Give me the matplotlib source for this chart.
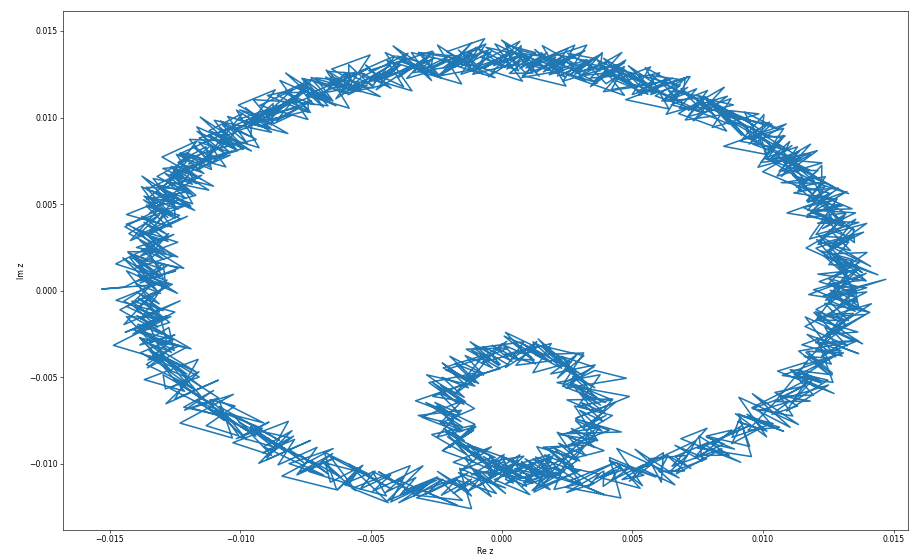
import numpy as np
import matplotlib
matplotlib.use("Agg")
import matplotlib.pyplot as plt

# Values in units of 1e-5
UNIT = 1e-5

# first pass round the inner loop
re_inner_1 = [25, 160, 85, 185, 70, 205, 130,
              290, 170, 269, 179, 358, 248, 357,
              242, 412, 283, 458, 249, 399, 315,
              435, 285, 489, 289, 398, 233, 357,
              477, 247, 358, 188, 289, 214, 315,
              150, 235, 140, 230, 55, 135, 40,
              125, 10, 120, -75, 20, -90, 25,
              -135, -5, -139, -69, -223, -113, -227,
              -102, -287, -138, -263, -134, -329, -170,
              -290, -150, -319, -154, -248, -98, -222,
              -107, -227, -108, -183, -24, -129, -35,
              -115, 10, -55, 65, -50, 70, 15]
im_inner_1 = [-980, -1068, -1107, -945, -998, -1071, -960,
              -1043, -905, -1041, -913, -865, -947, -803,
              -905, -805, -740, -815, -825, -720, -790,
              -645, -735, -610, -555, -645, -550, -460,
              -505, -562, -428, -480, -367, -504, -375,
              -317, -435, -278, -397, -430, -293, -392,
              -400, -262, -333, -415, -292, -403, -330,
              -337, -450, -504, -372, -445, -538, -417,
              -550, -485, -640, -610, -535, -635, -725,
              -645, -785, -720, -690, -845, -785, -920,
              -805, -923, -987, -865, -963, -886, -1035,
              -1063, -945, -1096, -983, -1065, -947, -1088]

# first pass round the outer loop
re_outer_1 = [45, -11, 148, 77, 186, 84, 208, 302, 201,
              240, 352, 249, 391, 389, 491, 378,
              530, 442, 544, 461, 619, 611, 563,
              710, 639, 784, 663, 767, 756, 871,
              765, 881, 783, 949, 911, 882, 1039,
              930, 1064, 943, 1056, 960, 1114, 1063, 1181,
              1050, 1186, 1113, 1249, 1116, 1197, 1104,
              1265, 1164, 1248, 1137, 1306, 1224, 1363, 1202, 1311,
              1210, 1363, 1251, 1409, 1237, 1320, 1203, 1361, 1289, 1397,
              1230, 1470, 1270, 1360, 1210, 1395, 1285,
              1380, 1246, 1327, 1203, 1349, 1260, 1385, 1211, 1317, 1228, 1354,
              1190, 1305, 1216, 1341, 1172, 1237, 1118, 1268, 1169, 1239, 1070,
              1240, 1103, 1166, 1039, 1167, 1075, 1183, 1016, 1079, 1012,
              990, 1092, 914, 1025, 947, 1034, 866, 938, 854, 971, 788,
              900, 781, 887, 712, 788, 649, 775, 686, 761, 612, 678, 549, 655,
              525, 605, 465, 590, 485, 580, 420, 470, 355, 475, 355, 450, 290,
              385, 241, 322, 227, 343, 214, 280, 111, 216, 127, 213, 59, 120,
              30, 130, 15, 65, -80, 15, -100, 35, -110, -50, -195, -115, -205,
              -115, -243, -140, -318, -250, -388, -265, -363, -285, -438, -375, -508, -390, -488, -405, -583,
              -585, -489, -662, -561, -634, -538, -711, -645, -764, -657, -756, -664, -818, -741,
              -740, -896, -802, -903, -775, -906, -827, -1008, -884, -980, -897, -1048, -974,
              -1075, -939, -1078, -998, -1157, -1056, -1165, -1009, -1154, -1078, -1237, -1131,
              -1110, -1244, -1167, -1296, -1170, -1243, -1147, -1306, -1235, -1358, -1207, -1316, -1189, -1368, -1277,
              -1370, -1229, -1348, -1272, -1435, -1308, -1406, -1239, -1382, -1274, -1361, -1428, -1305, -1406, -1237, -1383, -1279, -1445,
              -1530, -1270, -1390, -1295, -1435, -1320, -1415, -1250, -1375, -1280, -1440, -1305,
              -1280, -1399, -1233, -1353, -1257, -1381, -1265, -1344, -1204, -1293, -1157, -1286,
              -1295, -1149, -1219, -1083, -1213, -1102, -1216, -1046, -1115,
              -1020, -1130, -1005, -1070, -915, -1015, -890, -1000,
              -875, -963, -806, -904, -796, -914, -792,
              -855, -706, -783, -639, -770, -646, -738, -584,
              -535, -628, -531, -599, -441, -494, -362,
              -470, -329, -393, -262, -376,
              -245, -335, -150, -250, -130, -245, -115, -170,
              -20, -105, 15, -80]
im_outer_1 = [-1110, -1013, -1077, -985, -1148, -1077, -1015, -1113, -1147,
              -1010, -1112, -1164, -1041, -1129, -1021, -1078,
              -1140, -995, -1065, -1090, -935, -1105, -970,
              -950, -1051, -971, -892, -983, -839, -949,
              -950, -804, -839, -898, -737, -846, -766,
              -725, -788, -805, -627, -680, -723, -605, -637,
              -640, -519, -642, -516, -469, -553, -456,
              -485, -354, -479, -348, -303, -377, -287, -301, -171,
              -170, -238, -251, -124, -72, -200, -108, 19, -89, -7,
              -30, 66, -27, 119, 96, 57, 204,
              105, 235, 116, 246, 322, 237, 338, 268, 444, 359, 450,
              465, 386, 552, 473, 464, 600, 565, 531, 517, 658, 624,
              620, 749, 623, 742, 791, 695, 789, 758, 897, 776,
              910, 816, 863, 974, 846, 962, 1003, 880, 1021, 973, 1084,
              985, 1107, 1073, 1005, 1156, 1073, 1029, 1166, 1092, 1204, 1090, 1182, 1228,
              1130, 1258, 1212, 1145, 1299, 1202, 1161, 1294, 1213, 1331, 1205, 1303, 1267,
              1370, 1253, 1211, 1359, 1322, 1240, 1418, 1302, 1260, 1393, 1291, 1369, 1257,
              1255, 1375, 1420, 1270, 1350, 1290, 1405, 1305, 1250, 1390, 1310, 1430, 1275,
              1370, 1244, 1333, 1376, 1250, 1324, 1383, 1226, 1260, 1329, 1178, 1271, 1325, 1204, 1278, 1161,
              1305, 1171, 1196, 1262, 1108, 1204, 1229, 1095, 1186, 1106, 1222, 1068, 1094, 1174,
              1030, 1127, 1159, 1016, 1058, 955, 1082, 988, 940, 1057, 939, 1006, 853,
              980, 874, 823, 948, 882, 791, 920, 809, 748, 828, 742, 831,
              700, 787, 619, 706, 723, 580, 667, 589, 676, 528, 570, 612, 489, 546, 423,
              525, 415, 340, 465, 385, 285, 360, 280, 200, 330, 180, 220, 85, 205, 130, 45, 145, 20,
              10, 42, -95, 12, -90, -173, -60, -123, -220, -143, -240, -153,
              -305, -233, -317, -400, -278, -357, -460, -378, -481, -380, -498, -566,
              -485, -611, -487, -618, -689, -576, -672, -728, -629,
              -665, -779, -838, -701, -795, -854, -758, -846,
              -900, -797, -849, -961, -839, -936, -858,
              -1005, -904, -1063, -966, -1045, -939, -1043, -1116,
              -1010, -1149, -1007, -1121, -1184, -1043, -1141,
              -1045, -1179, -1223, -1092, -1156,
              -1075, -1178, -1210, -1078, -1150, -1043, -1185, -1093,
              -1170, -1033, -1170, -1043]

# second pass round the inner loop
re_inner_2 = [110, 45, 160, 90, 195, 120, 225,
              165, 275, 199, 299, 218, 323, 252,
              357, 267, 363, 283, 384, 299, 390,
              305, 395, 299, 379, 278, 363, 272,
              357, 247, 323, 223, 304, 199, 270,
              170, 235, 120, 190, 85, 160, 50,
              115, 0, 70, -35, 40, -70, -5,
              -115, -35, -139, -69, -178, -103, -202,
              -127, -227, -143, -233, -144, -239, -160,
              -255, -155, -239, -149, -238, -143, -222,
              -127, -207, -103, -173, -64, -139, -40,
              -115, 0, -70, 35, -40, 70, 5]
im_inner_2 = [-1085, -993, -1062, -970, -1063, -971, -1045,
              -948, -1015, -906, -983, -880, -952, -838,
              -905, -795, -865, -750, -810, -690, -755,
              -645, -705, -590, -660, -550, -615, -495,
              -560, -457, -528, -415, -482, -374, -450,
              -342, -430, -333, -412, -310, -393, -302,
              -385, -307, -403, -315, -407, -323, -425,
              -342, -445, -374, -487, -420, -528, -452,
              -560, -500, -615, -545, -655, -590, -710,
              -645, -755, -690, -810, -750, -865, -795,
              -910, -843, -952, -875, -978, -906, -1020,
              -948, -1040, -956, -1058, -980, -1077, -988]

# second pass round the outer loop
re_outer_2 = [-20, 84, 18, 117, 111, 209, 143, 242, 186,
              310, 262, 374, 331, 439, 361, 458,
              420, 542, 489, 576, 514, 636, 603,
              700, 629, 724, 663, 787, 741, 851,
              785, 891, 808, 914, 881, 987, 904,
              1015, 939, 1043, 986, 1100, 1034, 1133, 1046,
              1160, 1076, 1193, 1119, 1226, 1132, 1224,
              1155, 1259, 1158, 1262, 1206, 1299, 1203, 1302, 1236,
              1330, 1243, 1346, 1234, 1327, 1250, 1353, 1271, 1349, 1257,
              1350, 1250, 1365, 1275, 1360, 1265, 1370,
              1270, 1361, 1252, 1328, 1239, 1335, 1255, 1341, 1232, 1313, 1209,
              1315, 1215, 1306, 1181, 1262, 1172, 1263, 1168, 1234, 1129, 1210,
              1115, 1198, 1101, 1179, 1062, 1140, 1033, 1111, 1024, 1102,
              1085, 972, 1039, 945, 1022, 904, 971, 858, 944, 841, 903,
              800, 871, 747, 817, 733, 799, 680, 746, 636, 712, 613, 684, 570,
              635, 520, 590, 495, 565, 445, 505, 395, 480, 370, 435, 340, 405,
              280, 356, 257, 327, 208, 274, 160, 231, 136, 207, 93, 174, 70,
              125, 20, 95, -30, 35, -65, 10, -95, -40, -155, -75, -180, -110,
              -225, -153, -265, -193, -320, -258, -370, -293, -395, -333, -450, -388, -505, -428, -535, -463,
              -490, -604, -537, -651, -569, -673, -596, -720, -654, -752, -676, -779, -718, -836,
              -755, -866, -792, -893, -810, -921, -847, -968, -884, -980, -912, -1023, -954,
              -960, -1069, -998, -1108, -1022, -1121, -1040, -1159, -1089, -1183, -1102, -1206,
              -1225, -1139, -1237, -1151, -1265, -1183, -1287, -1196, -1285, -1208, -1312, -1236, -1334, -1238, -1342,
              -1260, -1359, -1278, -1377, -1280, -1368, -1276, -1384, -1302, -1384, -1291, -1378, -1300, -1401, -1307, -1393, -1294, -1390,
              -1305, -1400, -1310, -1395, -1295, -1390, -1300, -1405, -1315, -1395, -1300, -1390,
              -1395, -1289, -1368, -1263, -1357, -1256, -1340, -1229, -1299, -1203, -1287, -1191,
              -1175, -1254, -1149, -1218, -1103, -1182, -1076, -1166, -1060,
              -1125, -1010, -1080, -975, -1050, -940, -1005, -890,
              -960, -858, -936, -829, -896, -784, -852,
              -755, -816, -703, -774, -665, -731, -613, -674,
              -655, -543, -606, -484, -541, -424, -492,
              -375, -444, -328, -387, -266,
              -335, -225, -290, -170, -230, -115, -185, -75,
              -130, -20, -85, 25]
im_outer_2 = [-1010, -1078, -1112, -1010, -1098, -1047, -1130, -1038, -1067,
              -1125, -1022, -1059, -1131, -1034, -1086, -1003,
              -1095, -1005, -1100, -1000, -1035, -955, -1045,
              -1040, -946, -1026, -957, -878, -959, -884,
              -845, -914, -884, -783, -882, -796, -756,
              -810, -713, -790, -692, -640, -713, -665, -587,
              -550, -609, -602, -481, -534, -458, -521,
              -490, -389, -379, -423, -293, -347, -342, -221, -266,
              -190, -248, -131, -139, -172, -55, -118, -26, -99, 3,
              -35, 71, 23, 19, 126, 82, 164,
              195, 145, 151, 281, 272, 232, 353, 303, 314, 424, 390,
              390, 506, 492, 448, 564, 510, 595, 521, 627, 598, 694,
              695, 629, 753, 697, 691, 805, 749, 838, 757, 861,
              805, 906, 828, 949, 891, 977, 898, 995, 941, 1053, 984,
              1080, 1002, 1088, 1010, 1121, 1058, 1054, 1166, 1097, 1174, 1095, 1187, 1133,
              1225, 1153, 1147, 1255, 1184, 1262, 1176, 1264, 1208, 1311, 1240, 1228, 1322,
              1250, 1343, 1241, 1334, 1272, 1360, 1263, 1352, 1265, 1348, 1286, 1374, 1282,
              1370, 1280, 1365, 1300, 1385, 1285, 1360, 1275, 1380, 1295, 1375, 1290, 1365,
              1285, 1364, 1283, 1361, 1265, 1344, 1263, 1341, 1230, 1309, 1223, 1301, 1220, 1299, 1203, 1266,
              1185, 1261, 1161, 1237, 1153, 1234, 1139, 1210, 1101, 1186, 1097, 1183, 1074, 1144,
              1145, 1047, 1124, 1016, 1083, 985, 1062, 973, 1045, 937, 1009, 921, 988,
              890, 959, 848, 918, 822, 901, 800, 859, 753, 833, 737, 796,
              780, 677, 739, 646, 718, 615, 677, 564, 636, 533, 595, 502, 574, 471, 533,
              430, 490, 370, 430, 325, 395, 285, 335, 215, 290, 180, 245, 125, 180, 80, 145, 35, 85,
              -15, 42, -75, -8, -115, -43, -155, -93, -210, -143, -250, -193,
              -205, -313, -247, -355, -298, -417, -350, -458, -386, -500, -448, -551,
              -570, -506, -622, -553, -659, -586, -697, -633, -749,
              -675, -774, -698, -806, -735, -839, -758, -856,
              -785, -897, -824, -926, -849, -956, -888,
              -995, -914, -1018, -946, -1055, -979, -1078, -996,
              -1105, -1019, -1117, -1041, -1144, -1063, -1156,
              -1075, -1164, -1078, -1177, -1096,
              -1185, -1088, -1175, -1088, -1180, -1088, -1170, -1073,
              -1160, -1058, -1125, -1023]

# third pass round the inner loop
re_inner_3 = [0, 185, 80, 190, 50, 210, 135,
              295, 210, 314, 159, 288, 213, 392,
              282, 377, 223, 368, 279, 424, 330,
              425, 250, 359, 264, 423, 293, 377,
              212, 337, 228, 353, 239, 314, 130,
              230, 120, 265, 120, 190, 10, 130,
              15, 135, 15, 85, -105, -10, -120,
              25, -115, -39, -214, -88, -198, -72,
              -187, -102, -278, -168, -264, -104, -235,
              -150, -305, -159, -249, -103, -198, -102,
              -267, -137, -213, -33, -158, -39, -185,
              -30, -105, 55, -25, 85, -65, 70]
im_inner_3 = [-955, -1073, -1127, -965, -1028, -1081, -900,
              -973, -1065, -891, -903, -980, -817, -923,
              -965, -785, -830, -865, -665, -720, -805,
              -625, -630, -700, -530, -630, -665, -485,
              -530, -572, -378, -440, -532, -359, -370,
              -447, -295, -413, -473, -305, -368, -422,
              -240, -327, -443, -295, -332, -433, -295,
              -427, -505, -369, -457, -535, -378, -477,
              -605, -475, -530, -650, -530, -680, -765,
              -635, -730, -815, -665, -770, -905, -775,
              -830, -943, -817, -960, -1040, -901, -990,
              -1068, -900, -986, -1103, -955, -992, -1093]

# third pass round the outer loop
re_outer_3 = [120, -46, 108, -28, 196, 124, 303, 117, 256,
              160, 392, 264, 436, 244, 456, 413,
              590, 412, 539, 441, 679, 511, 663,
              525, 744, 669, 843, 652, 786, 686,
              915, 781, 948, 749, 956, 907, 1079,
              895, 1014, 908, 1136, 960, 1104, 958, 1171,
              1090, 1251, 1048, 1169, 1056, 1272, 1129,
              1285, 1074, 1268, 1207, 1366, 1169, 1278, 1162, 1381,
              1195, 1323, 1161, 1359, 1262, 1415, 1203, 1316, 1194, 1402,
              1250, 1395, 1175, 1360, 1290, 1440, 1235,
              1335, 1206, 1412, 1213, 1334, 1165, 1355, 1251, 1397, 1178, 1284,
              1155, 1350, 1186, 1321, 1092, 1267, 1188, 1328, 1114, 1204, 1070,
              1270, 1063, 1176, 999, 1182, 1070, 1208, 981, 1079, 942,
              1135, 962, 1089, 850, 1017, 929, 1061, 838, 919, 776, 968,
              755, 861, 677, 852, 733, 864, 630, 721, 576, 762, 588, 714, 475,
              640, 550, 680, 455, 535, 390, 580, 365, 470, 285, 460, 340, 470,
              235, 326, 182, 367, 193, 319, 80, 246, 156, 287, 63, 144, 0,
              190, -25, 80, -105, 70, -50, 80, -155, -65, -210, -25, -200, -75,
              -315, -153, -245, -118, -345, -268, -415, -228, -445, -343, -530, -358, -480, -353, -590, -503,
              -650, -464, -637, -511, -749, -583, -671, -540, -764, -682, -826, -634, -848, -741,
              -925, -746, -862, -728, -960, -866, -1007, -818, -989, -860, -1097, -928, -1014,
              -880, -1099, -1013, -1153, -957, -1166, -1055, -1234, -1054, -1168, -1032, -1261,
              -1165, -1299, -1102, -1266, -1130, -1358, -1182, -1261, -1120, -1333, -1242, -1376, -1174, -1378, -1262,
              -1435, -1244, -1348, -1202, -1420, -1313, -1441, -1239, -1397, -1254, -1476, -1293, -1365, -1216, -1422, -1323, -1449, -1240,
              -1435, -1310, -1475, -1280, -1380, -1230, -1445, -1335, -1460, -1255, -1410, -1265,
              -1485, -1289, -1348, -1188, -1382, -1271, -1385, -1164, -1349, -1213, -1367, -1161,
              -1250, -1084, -1284, -1158, -1268, -1047, -1186, -1026, -1230,
              -1030, -1080, -910, -1095, -975, -1080, -850, -1025,
              -880, -1028, -816, -899, -731, -929, -802,
              -910, -681, -813, -644, -840, -631, -678, -504,
              -685, -558, -656, -419, -586, -434, -572,
              -350, -424, -248, -437, -301,
              -400, -170, -300, -130, -325, -115, -160, 15,
              -165, -40, -140, 95]
im_outer_3 = [-1110, -958, -1177, -1090, -953, -1162, -1035, -1153, -952,
              -1030, -1177, -1094, -991, -1134, -1196, -963,
              -1075, -980, -1125, -910, -1080, -915, -1120,
              -1020, -866, -1056, -912, -1013, -794, -854,
              -990, -894, -779, -908, -957, -711, -811,
              -710, -843, -615, -772, -595, -788, -675, -512,
              -695, -544, -637, -411, -464, -593, -491,
              -370, -489, -529, -273, -363, -252, -382, -151, -306,
              -125, -318, -206, -44, -227, -75, -168, 59, 6, -122,
              -20, 101, -22, -66, 186, 92, 199,
              65, 295, 141, 321, 132, 247, 413, 233, 389, 299, 530,
              480, 351, 452, 573, 449, 405, 655, 561, 667, 533, 759,
              600, 774, 578, 687, 846, 660, 809, 713, 937, 881,
              750, 846, 963, 834, 786, 1032, 933, 1035, 896, 1118, 954,
              1125, 922, 1023, 1175, 981, 1123, 1019, 1236, 1172, 1034, 1125, 1237, 1103,
              1050, 1288, 1182, 1275, 1129, 1342, 1171, 1334, 1128, 1226, 1375, 1178, 1317,
              1210, 1418, 1346, 1199, 1282, 1385, 1243, 1182, 1415, 1303, 1391, 1239, 1447,
              1270, 1425, 1210, 1300, 1440, 1235, 1365, 1250, 1455, 1380, 1230, 1310, 1410,
              1265, 1194, 1418, 1296, 1375, 1214, 1413, 1226, 1375, 1154, 1238, 1371, 1160, 1284, 1163, 1361,
              1280, 1121, 1191, 1282, 1128, 1054, 1274, 1150, 1226, 1061, 1257, 1068, 1214, 989,
              1070, 1197, 979, 1096, 968, 1160, 1072, 908, 975, 1062, 904, 826, 1043,
              915, 984, 813, 1003, 807, 946, 715, 789, 913, 693, 807, 676,
              865, 772, 604, 666, 748, 585, 502, 714, 581, 648, 475, 662, 464, 601, 368,
              440, 555, 325, 430, 290, 470, 370, 195, 250, 325, 155, 65, 270, 130, 190, 10, 190, -15,
              115, -123, -55, 62, -165, -58, -195, -13, -110, -283, -225, -148,
              -315, -403, -197, -335, -273, -452, -270, -473, -341, -580, -513, -396,
              -625, -516, -652, -468, -564, -736, -677, -598, -764,
              -850, -634, -763, -691, -860, -669, -863, -721,
              -950, -877, -754, -976, -864, -996, -808,
              -900, -1064, -998, -911, -1070, -1149, -933, -1061,
              -990, -1154, -957, -1146, -999, -1223, -1141,
              -1010, -1219, -1093, -1212, -1011,
              -1090, -1238, -1155, -1053, -1195, -1258, -1025, -1138,
              -1050, -1188, -965, -1128]

# fourth pass: right side, over the top, down the left side
re_outer_4 = [1265, 1169, 1308, 1157, 1256, 1149, 1303, 1237, 1351,
              1220, 1318, 1201, 1299, 1392, 1250, 1353, 1366, 1264, 1397,
              1240, 1330, 1215, 1360, 1285, 1390, 1250,
              1345, 1221, 1312, 1398, 1249, 1345, 1350, 1241, 1367, 1203, 1289,
              1170, 1305, 1221, 1316, 1167, 1252, 1123, 1208, 1289, 1134, 1225,
              1225, 1108, 1226, 1054, 1132, 1005, 1138, 1051, 1144, 992,
              1075, 937, 1014, 1085, 922, 1004, 996, 873, 984, 806, 878,
              745, 871, 777, 862, 703, 779, 640, 716, 786, 622, 703, 694, 570,
              680, 500, 570, 435, 560, 465, 550, 390, 465, 325, 400, 470, 305,
              385, 376, 252, 362, 183, 254, 120, 246, 151, 237, 78, 154, 15,
              90, 160, -5, 75, 65, -60, 50, -130, -60, -195, -70, -165, -80,
              -240, -168, -310, -238, -170, -338, -260, -273, -400, -293, -475, -408, -545, -423, -520, -438,
              -600, -524, -662, -586, -514, -678, -596, -605, -729, -617, -796, -724, -858, -731,
              -825, -736, -892, -813, -950, -871, -797, -958, -874, -880, -1002, -888, -1064,
              -990, -1119, -988, -1078, -987, -1141, -1060, -1194, -1114, -1038, -1197, -1111,
              -1115, -1229, -1107, -1276, -1195, -1318, -1182, -1266, -1170, -1318, -1232, -1361, -1274, -1193, -1347,
              -1255, -1249, -1358, -1232, -1395, -1308, -1426, -1284, -1362, -1259, -1401, -1308, -1430, -1336, -1247, -1393, -1294, -1285,
              -1390, -1260, -1420, -1330, -1445, -1300, -1375, -1270, -1410, -1315, -1435, -1340,
              -1250, -1384, -1273, -1253, -1347, -1206, -1355, -1254, -1359, -1203, -1267, -1151]
im_outer_4 = [-475, -349, -359, -428, -253, -312, -377, -211, -291,
              -310, -168, -121, -224, -137, -150, -3, -91, 31, 18,
              -55, 116, 53, -16, 146, 62, 39,
              180, 230, 131, 221, 212, 362, 278, 403, 394, 324, 500,
              440, 371, 532, 448, 424, 565, 610, 506, 592, 578, 724,
              635, 754, 738, 662, 831, 765, 694, 853, 767, 741,
              880, 921, 813, 894, 876, 1017, 923, 1040, 1021, 943, 1109,
              1040, 962, 1113, 1020, 986, 1118, 1154, 1041, 1117, 1094, 1230, 1132, 1243,
              1220, 1133, 1292, 1215, 1134, 1282, 1186, 1149, 1278, 1311, 1195, 1268, 1242,
              1375, 1268, 1371, 1339, 1247, 1400, 1318, 1232, 1375, 1273, 1231, 1354, 1382,
              1260, 1325, 1290, 1415, 1305, 1405, 1370, 1275, 1425, 1340, 1250, 1390, 1285,
              1240, 1354, 1373, 1241, 1300, 1259, 1378, 1261, 1355, 1314, 1213, 1356, 1265, 1169, 1303, 1191,
              1140, 1251, 1266, 1132, 1188, 1144, 1259, 1140, 1231, 1186, 1082, 1223, 1129, 1029,
              1160, 1042, 984, 1091, 1103, 965, 1017, 968, 1080, 957, 1044, 996, 888,
              1025, 924, 818, 943, 822, 761, 865, 874, 733, 783, 732, 841,
              715, 797, 744, 631, 763, 660, 552, 674, 551, 488, 590, 597, 454, 501, 448,
              555, 420, 495, 435, 315, 440, 330, 215, 330, 200, 130, 225, 225, 75, 115, 55, 155, 20,
              95, 37, -80, 47, -60, -173, -55, -183, -250, -153, -150, -298,
              -255, -313, -212, -345, -268, -327, -445, -318, -426, -540, -423, -551]

re_z = np.array(re_inner_1 + re_outer_1 + re_inner_2 + re_outer_2
                + re_inner_3 + re_outer_3) * UNIT
im_z = np.array(im_inner_1 + im_outer_1 + im_inner_2 + im_outer_2
                + im_inner_3 + im_outer_3) * UNIT
re_z4 = np.array(re_outer_4) * UNIT
im_z4 = np.array(im_outer_4) * UNIT

dpi = 55.6
fig = plt.figure(figsize=(912 / dpi, 558 / dpi), dpi=dpi)
ax = fig.add_axes([63 / 912, 28 / 558, 845 / 912, 519 / 558])
ax.plot(re_z, im_z, color="#1f77b4", linewidth=2.0)
ax.plot(re_z4, im_z4, color="#1f77b4", linewidth=2.0)
ax.set_xlim(-0.01678, 0.01555)
ax.set_ylim(-0.01381, 0.01615)
ax.set_xlabel("Re z")
ax.set_ylabel("Im z")
fig.savefig("out.png", dpi=dpi)
